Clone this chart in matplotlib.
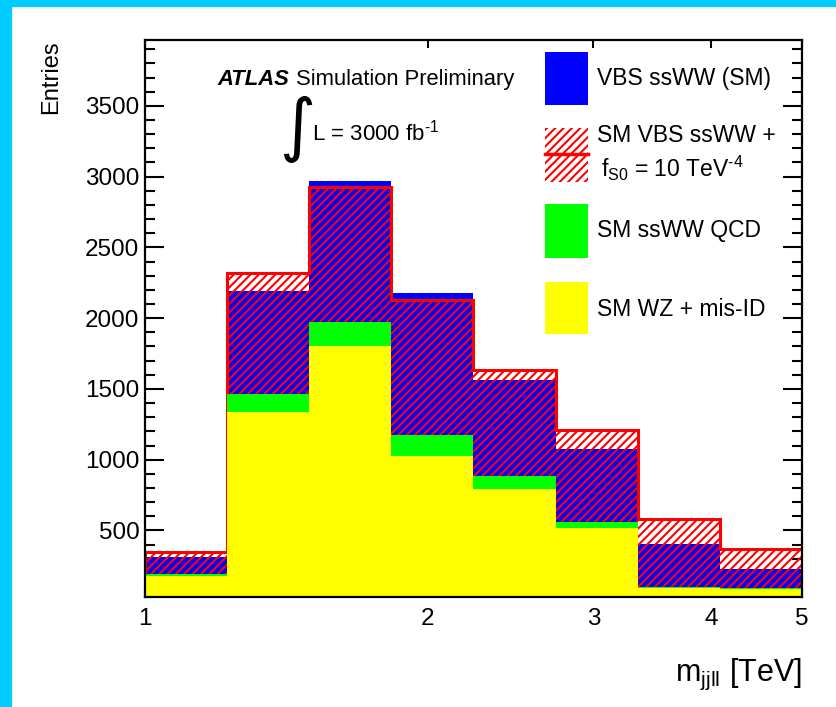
import numpy as np
import matplotlib
matplotlib.use('Agg')
import matplotlib.pyplot as plt
from matplotlib.patches import Rectangle
from matplotlib.lines import Line2D
from matplotlib.ticker import FixedLocator, FixedFormatter, NullLocator, MultipleLocator

# bin edges of m_jjll in TeV
edges = [1.0, 1.223, 1.495, 1.829, 2.236, 2.735, 3.344, 4.089, 5.0]

# entries per bin
wz_misid = [177, 1335, 1806, 1024, 794, 519, 95, 90]   # SM WZ + mis-ID
qcd_ww = [19, 132, 164, 153, 89, 39, 7, 7]             # SM ssWW QCD
vbs_sm = [115, 722, 1000, 1001, 678, 520, 299, 132]    # VBS ssWW (SM)
vbs_fs0 = [151, 852, 960, 953, 753, 650, 482, 269]     # SM VBS ssWW + fS0

xticks = [1, 2, 3, 4, 5]
xticklabels = ['1', '2', '3', '4', '5']

plt.rcParams['font.family'] = ['Liberation Sans', 'DejaVu Sans']
plt.rcParams['mathtext.fontset'] = 'custom'
plt.rcParams['mathtext.rm'] = 'Liberation Sans'
plt.rcParams['mathtext.it'] = 'Liberation Sans:italic'
plt.rcParams['hatch.linewidth'] = 1.5

HY = '\u2010'  # short hyphen for the superscripts

W, H = 837, 707
fig = plt.figure(figsize=(W/100, H/100), dpi=100)
fig.patch.set_facecolor('white')

# cyan border on left and top
fig.patches.append(Rectangle((0, 0), 11/W, 1, transform=fig.transFigure, color='#00ccff', zorder=0))
fig.patches.append(Rectangle((0, 1-6/H), 1, 6/H, transform=fig.transFigure, color='#00ccff', zorder=0))

ax = fig.add_axes([145/W, 1-597/H, 657/W, 557/H])

bkg = np.array(wz_misid)
qcd_top = bkg + np.array(qcd_ww)
sm_top = qcd_top + np.array(vbs_sm)
bsm_top = qcd_top + np.array(vbs_fs0)

ax.stairs(sm_top, edges, fill=True, color='#0000ff', zorder=2.1)
ax.stairs(bsm_top, edges, fill=True, facecolor='none', edgecolor='#ff0000',
          hatch='////', linewidth=2.2, zorder=2.2)
ax.stairs(qcd_top, edges, fill=True, color='#00ff00', linewidth=0.5, zorder=2.3)
ax.stairs(bkg, edges, fill=True, color='#ffff00', linewidth=0.5, zorder=2.4)

ax.set_xscale('log')
ax.set_xlim(1, 5)
ax.set_ylim(30, 3965)
ax.xaxis.set_major_locator(FixedLocator(xticks))
ax.xaxis.set_major_formatter(FixedFormatter(xticklabels))
ax.xaxis.set_minor_locator(NullLocator())
ax.yaxis.set_major_locator(MultipleLocator(500))
ax.yaxis.set_minor_locator(MultipleLocator(100))

for s in ax.spines.values():
    s.set_linewidth(1.6)
ax.tick_params(axis='both', which='both', direction='in', top=True, right=True, width=1.5)
ax.tick_params(axis='y', which='major', length=14, pad=4, labelsize=17.5)
ax.tick_params(axis='y', which='minor', length=7.5)
ax.tick_params(axis='x', which='major', length=6, pad=8, labelsize=17.5)

def fx(px):
    return (px - 145) / 657

def fy(py):
    return (597 - py) / 557

ax.text(fx(51), 1.0, 'Entries', rotation=90, ha='center', va='top',
        fontsize=17, transform=ax.transAxes)
ax.text(1.0, fy(681), r'm$_{\mathrm{jjll}}$ [TeV]', ha='right', va='baseline',
        fontsize=22, transform=ax.transAxes)

# labels
ax.text(fx(217), fy(85), 'ATLAS', fontsize=15.8, fontweight='bold', style='italic',
        ha='left', va='baseline', transform=ax.transAxes)
ax.text(fx(296), fy(85), 'Simulation Preliminary', fontsize=15.8,
        ha='left', va='baseline', transform=ax.transAxes)
ax.text(fx(297), fy(129), '\u222b', fontsize=50, family='DejaVu Sans',
        ha='center', va='center', transform=ax.transAxes)
ax.text(fx(312), fy(140), 'L = 3000 fb$^{\\mathrm{' + HY + '1}}$', fontsize=16,
        ha='left', va='baseline', transform=ax.transAxes)

# legend drawn by hand
bw = 43 / 657
ax.add_patch(Rectangle((fx(545), fy(105)), bw, 53/557, transform=ax.transAxes,
                       facecolor='#0000ff', edgecolor='none', clip_on=False))
ax.add_patch(Rectangle((fx(545), fy(182)), bw, 54/557, transform=ax.transAxes,
                       facecolor='white', edgecolor='#ff0000', linewidth=0,
                       hatch='////', clip_on=False))
ax.add_line(Line2D([fx(545), fx(588)], [fy(154), fy(154)], transform=ax.transAxes,
                   color='#ff0000', linewidth=2.5, clip_on=False))
ax.add_patch(Rectangle((fx(545), fy(258)), bw, 54/557, transform=ax.transAxes,
                       facecolor='#00ff00', edgecolor='none', clip_on=False))
ax.add_patch(Rectangle((fx(545), fy(334)), bw, 52/557, transform=ax.transAxes,
                       facecolor='#ffff00', edgecolor='none', clip_on=False))

lab = dict(fontsize=16.5, ha='left', va='center', transform=ax.transAxes)
ax.text(fx(597), fy(78), 'VBS ssWW (SM)', **lab)
ax.text(fx(597), fy(135), 'SM VBS ssWW +', **lab)
ax.text(fx(601), fy(168), 'f$_{\\mathrm{S0}}$ = 10 TeV$^{\\mathrm{' + HY + '4}}$', **lab)
ax.text(fx(597), fy(231), 'SM ssWW QCD', **lab)
ax.text(fx(597), fy(309), 'SM WZ + mis-ID', **lab)

fig.savefig('out.png', dpi=100)
